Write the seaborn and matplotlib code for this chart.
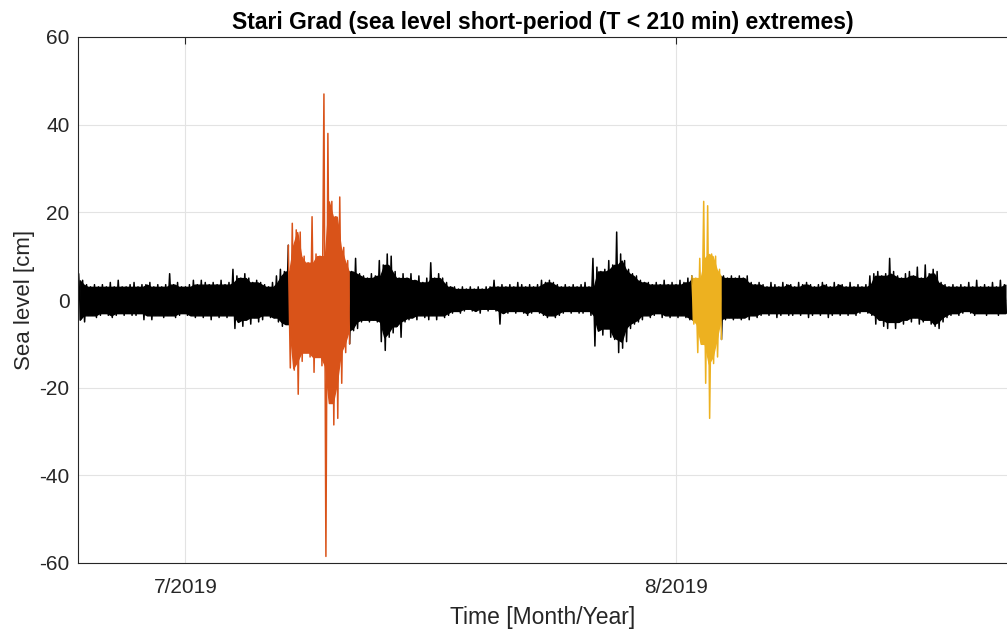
import numpy as np
import pandas as pd
import matplotlib
matplotlib.use("Agg")
import matplotlib.pyplot as plt
import seaborn as sns

# ---------------- data (envelope of the short-period sea level, 6-hourly bins) -------------
start_time = "2019-06-24 06:00"
bin_hours = 6

upper = [
    6.0, 4.5, 3.5, 3.0, 3.5, 3.0, 3.5, 3.0, 4.0, 3.0,
    4.5, 3.0, 3.0, 3.5, 4.0, 3.0, 3.5, 3.5, 4.0, 3.0,
    3.5, 3.0, 3.5, 6.0, 3.5, 4.0, 3.0, 3.0, 3.5, 4.5,
    3.5, 4.5, 4.0, 3.5, 4.0, 3.5, 4.5, 3.5, 4.0, 7.0,
    5.5, 5.0, 6.0, 5.0, 4.0, 4.5, 4.0, 3.5, 3.0, 4.0,
    5.5, 7.0, 6.5,
    12.5, 17.5, 16.0, 15.5, 10.0, 8.5, 19.0, 10.5, 10.0, 47.0,
    38.0, 22.5, 19.0, 23.5, 12.0, 9.0,
    6.5, 9.5, 6.0, 5.5, 5.0, 6.0, 5.5, 9.0, 8.0, 10.5,
    10.0, 6.5, 5.0, 6.0, 5.0, 6.0, 4.5, 5.5, 4.0, 5.0,
    8.5, 5.0, 6.0, 5.0, 4.0, 3.0, 3.0, 2.5, 3.0, 2.5,
    3.0, 2.5, 3.0, 2.5, 3.0, 3.0, 4.5, 3.0, 3.5, 3.0,
    3.5, 3.0, 4.0, 3.5, 3.0, 3.5, 3.0, 3.5, 4.5, 4.0,
    4.5, 4.0, 3.5, 3.0, 3.5, 3.0, 3.5, 3.0, 3.5, 4.0,
    3.0, 9.5, 7.5, 6.5, 7.0, 9.0, 8.0, 15.5, 10.5, 9.0,
    7.0, 6.0, 5.5, 4.5, 4.0, 4.0, 3.5, 4.0, 3.5, 4.5,
    3.5, 4.0, 3.5, 4.5, 4.0, 5.0,
    5.5, 5.0, 9.5, 22.5, 21.5, 10.5, 10.0, 7.0,
    5.5, 5.0, 5.5, 5.0, 5.5, 5.0, 5.5, 4.0, 3.5, 4.0,
    3.5, 3.0, 4.0, 3.5, 3.0, 4.0, 3.5, 3.5, 3.0, 4.0,
    3.5, 4.0, 3.5, 3.0, 3.5, 4.0, 3.5, 3.0, 4.0, 3.5,
    3.5, 3.0, 4.0, 3.0, 3.5, 3.0, 3.5, 5.5, 6.0, 6.5,
    5.5, 6.0, 9.5, 6.5, 5.5, 5.0, 6.0, 6.5, 5.5, 7.5,
    5.0, 8.0, 6.0, 7.0, 6.5, 4.0, 3.5, 3.0, 3.5, 3.0,
    3.5, 3.0, 4.0, 3.0, 4.5, 3.0, 3.5, 3.0, 4.0, 3.0,
    4.5, 3.5,
]

lower = [
    -4.5, -5.0, -3.5, -3.5, -4.0, -3.5, -3.0, -3.5, -4.0, -3.5,
    -3.0, -3.5, -3.0, -3.5, -3.5, -3.0, -4.5, -3.5, -4.5, -3.5,
    -3.5, -4.0, -3.5, -3.5, -4.0, -3.5, -3.0, -3.5, -3.5, -4.0,
    -3.5, -4.0, -3.5, -4.5, -3.5, -4.0, -3.5, -4.0, -3.5, -6.5,
    -5.0, -6.0, -4.5, -5.5, -4.0, -5.0, -4.5, -3.5, -4.0, -4.0,
    -5.0, -6.0, -5.5,
    -15.5, -16.0, -21.5, -14.0, -12.0, -13.0, -16.5, -13.0, -15.0, -58.5,
    -23.5, -28.5, -27.0, -19.0, -12.0, -10.0,
    -7.0, -6.5, -5.0, -4.5, -5.0, -4.5, -5.0, -9.5, -11.5, -8.5,
    -7.5, -6.0, -8.5, -5.0, -4.5, -4.0, -4.5, -3.5, -4.0, -4.5,
    -3.5, -4.5, -3.5, -4.0, -3.5, -3.0, -2.5, -3.0, -2.5, -2.0,
    -2.5, -2.5, -3.0, -2.0, -2.5, -2.0, -2.5, -5.5, -3.0, -3.0,
    -2.5, -3.0, -2.5, -3.0, -3.5, -3.0, -2.5, -3.0, -3.5, -4.0,
    -3.5, -4.0, -3.5, -3.0, -2.5, -3.0, -2.5, -3.0, -3.0, -2.5,
    -3.5, -10.5, -7.0, -8.0, -6.5, -8.5, -9.0, -12.0, -11.0, -9.5,
    -6.5, -5.5, -5.0, -4.5, -3.5, -4.0, -3.5, -3.0, -4.0, -3.5,
    -4.0, -3.5, -4.0, -3.5, -4.0, -4.5,
    -5.5, -12.0, -10.0, -19.0, -27.0, -14.5, -13.0, -9.0,
    -4.5, -4.0, -4.5, -4.0, -4.5, -4.0, -4.5, -3.5, -4.0, -3.5,
    -3.0, -3.5, -3.0, -4.0, -3.5, -3.0, -3.5, -3.5, -3.0, -3.5,
    -3.0, -4.0, -3.5, -3.0, -3.5, -3.0, -4.0, -3.5, -3.0, -3.5,
    -3.0, -3.5, -3.0, -3.5, -3.0, -2.5, -3.0, -3.5, -5.5, -4.5,
    -6.0, -6.5, -5.0, -6.5, -5.0, -5.5, -4.5, -5.0, -4.0, -5.5,
    -5.0, -4.5, -5.5, -6.0, -6.5, -5.0, -4.0, -3.5, -3.0, -3.5,
    -3.0, -2.5, -3.0, -3.5, -3.0, -3.0, -3.5, -3.0, -3.0, -3.5,
    -3.0, -3.0, -3.5, -3.0,
]

# extreme events (start, end)
event1 = ("2019-07-07 12:00", "2019-07-11 06:00")
event2 = ("2019-08-02 00:00", "2019-08-03 18:00")

tick_dates = ["2019-07-01", "2019-08-01"]
tick_labels = ["7/2019", "8/2019"]
y_ticks = [-60, -40, -20, 0, 20, 40, 60]
x_range = ("2019-06-24 05:00", "2019-08-21 22:00")

title = "Stari Grad (sea level short-period (T < 210 min) extremes)"
xlabel = "Time [Month/Year]"
ylabel = "Sea level [cm]"

# ---------------- build max/min trace from the envelope ----------------
n = min(len(upper), len(lower))
t = pd.date_range(start_time, periods=n, freq=f"{bin_hours}h")
half = pd.Timedelta(hours=bin_hours / 2)

seg = np.zeros(n, dtype=int)
for k, ev in enumerate([event1, event2], start=1):
    seg[(t >= pd.Timestamp(ev[0])) & (t <= pd.Timestamp(ev[1]))] = k

rows = []
for i in range(n):
    rows.append((t[i], upper[i], seg[i]))
    rows.append((t[i] + half, lower[i], seg[i]))
df = pd.DataFrame(rows, columns=["time", "level", "seg"])

env = pd.DataFrame({"time": t + half / 2, "hi": np.array(upper[:n]),
                    "lo": np.array(lower[:n]), "seg": seg})
# dense core of the band (the spikes are drawn by the trace itself)
env["core_hi"] = env["hi"].rolling(3, center=True, min_periods=1).min()
env["core_lo"] = env["lo"].rolling(3, center=True, min_periods=1).max()


def runs(frame, k):
    """Contiguous pieces of segment k, each padded by one neighbouring row."""
    idx = np.flatnonzero(frame["seg"].to_numpy() == k)
    if idx.size == 0:
        return []
    breaks = np.flatnonzero(np.diff(idx) > 1)
    starts = np.r_[idx[0], idx[breaks + 1]]
    ends = np.r_[idx[breaks], idx[-1]]
    pad = 1 if k == 0 else 0
    return [frame.iloc[max(a - pad, 0): min(b + pad, len(frame) - 1) + 1]
            for a, b in zip(starts, ends)]


colors = {0: "black", 1: "#D95319", 2: "#EDB120"}

# ---------------- plotting ----------------
sns.set_style("white")
plt.rcParams["font.family"] = ["Liberation Sans", "DejaVu Sans"]

fig = plt.figure(figsize=(10.07, 6.33), dpi=100)
ax = fig.add_axes([78 / 1007, 70 / 633, 929 / 1007, 526 / 633])

for k in [0, 1, 2]:
    col = colors[k]
    for e in runs(env, k):
        ax.fill_between(e["time"], e["core_lo"], e["core_hi"],
                        color=col, edgecolor=col, linewidth=1.0)
    for j, piece in enumerate(runs(df, k)):
        sns.lineplot(data=piece, x="time", y="level", color=col, linewidth=1.1,
                     estimator=None, sort=False, ax=ax)

ax.set_xlim(pd.Timestamp(x_range[0]), pd.Timestamp(x_range[1]))
ax.set_ylim(-60, 60)
ax.set_xticks([pd.Timestamp(d) for d in tick_dates])
ax.set_xticklabels(tick_labels)
ax.set_yticks(y_ticks)
ax.set_yticklabels([str(v) for v in y_ticks])

ax.grid(True, color="#e3e3e3", linewidth=0.8)
ax.set_axisbelow(True)
for s in ax.spines.values():
    s.set_color("#262626")
    s.set_linewidth(0.8)
ax.spines["right"].set_visible(False)
ax.tick_params(axis="both", direction="in", length=5, width=0.8,
               top=True, right=False, colors="#262626", labelsize=15)
ax.tick_params(axis="x", pad=11)
ax.tick_params(axis="y", pad=6)

ax.set_title(title, fontsize=16.5, fontweight="bold", color="black", pad=6)
ax.set_xlabel(xlabel, fontsize=16.5, color="#262626", labelpad=6)
ax.set_ylabel(ylabel, fontsize=16, color="#262626", labelpad=3)

fig.savefig("out.png", dpi=100)
